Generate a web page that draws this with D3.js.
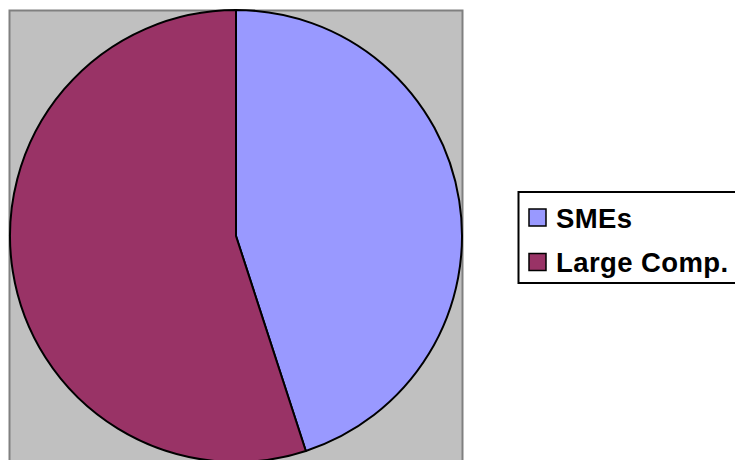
<!DOCTYPE html>
<html lang="en">
<head>
  <meta charset="UTF-8">
  <title>SMEs vs Large Companies</title>
  <script src="https://d3js.org/d3.v7.min.js"></script>
  <style>
    body { margin: 0; background: #fff; }
  </style>
</head>
<body>
  <script>
    const categories = ["SMEs", "Large Comp."];
    const values = [45, 55];
    const colors = ["#9999FF", "#993366"];

    const width = 735, height = 460;
    const centerX = 236, centerY = 236;
    const radius = 226;

    let svg = d3.select("body")
      .append("svg")
      .attr("width", width)
      .attr("height", height);

    // plot area
    svg.append("rect")
      .attr("x", 9.5)
      .attr("y", 10.5)
      .attr("width", 453)
      .attr("height", 460)
      .attr("fill", "#C0C0C0")
      .attr("stroke", "#808080")
      .attr("stroke-width", 2);

    const pie = d3.pie().sort(null).value(d => d);
    const arc = d3.arc().innerRadius(0).outerRadius(radius);

    svg.append("g")
      .attr("transform", `translate(${centerX},${centerY})`)
      .selectAll("path")
      .data(pie(values))
      .enter()
      .append("path")
      .attr("d", arc)
      .attr("fill", (d, i) => colors[i])
      .attr("stroke", "#000")
      .attr("stroke-width", 2)
      .attr("stroke-linejoin", "round");

    // legend
    const legend = svg.append("g");
    legend.append("rect")
      .attr("x", 518.5)
      .attr("y", 192)
      .attr("width", 230)
      .attr("height", 91)
      .attr("fill", "#fff")
      .attr("stroke", "#000")
      .attr("stroke-width", 2);

    const rowY = [218, 262.5];
    categories.forEach((c, i) => {
      legend.append("rect")
        .attr("x", 529)
        .attr("y", rowY[i] - 9)
        .attr("width", 17)
        .attr("height", 17)
        .attr("fill", colors[i])
        .attr("stroke", "#000")
        .attr("stroke-width", 1.5);
      legend.append("text")
        .attr("x", 556)
        .attr("y", rowY[i] + 9.5)
        .attr("font-family", "Liberation Sans, Arial, sans-serif")
        .attr("font-weight", "bold")
        .attr("font-size", 27.5)
        .attr("letter-spacing", 0.4)
        .text(c);
    });
  </script>
</body>
</html>
